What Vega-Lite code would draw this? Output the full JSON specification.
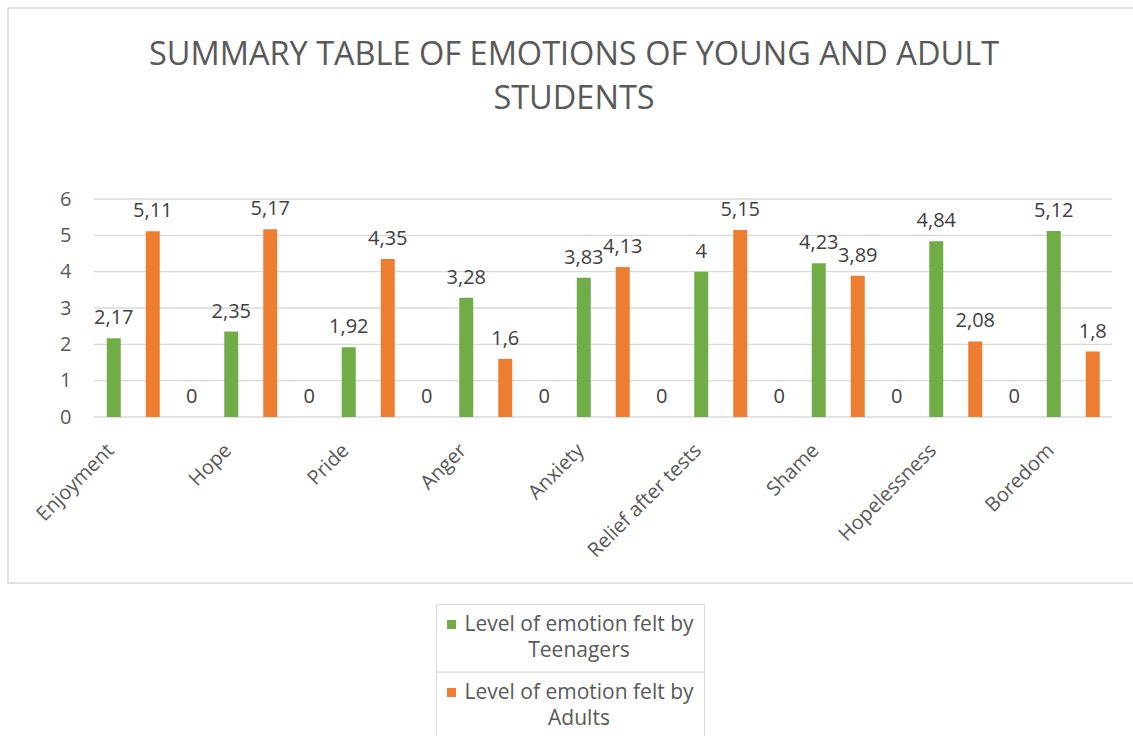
{
  "$schema": "https://vega.github.io/schema/vega-lite/v6.json",
  "autosize": "none",
  "width": 1018,
  "height": 218,
  "padding": {"left": 94, "top": 199, "right": 21, "bottom": 319},
  "title": {
    "text": ["SUMMARY TABLE OF EMOTIONS OF YOUNG AND ADULT", "STUDENTS"],
    "anchor": "middle",
    "dx": -29,
    "offset": -134,
    "font": "Open Sans",
    "fontSize": 32.5,
    "fontWeight": "normal",
    "color": "#595959",
    "lineHeight": 44,
    "baseline": "alphabetic"
  },
  "datasets": {
    "frame": [{"id": "chart area"}],
    "divider": [{"id": "legend divider"}],
    "grid": [{"g": 0}, {"g": 1}, {"g": 2}, {"g": 3}, {"g": 4}, {"g": 5}, {"g": 6}],
    "emotions": [
      {"emotion": "Enjoyment", "series": "Level of emotion felt by Teenagers", "value": 2.17},
      {"emotion": "Enjoyment", "series": "Level of emotion felt by Adults", "value": 5.11},
      {"emotion": "Enjoyment", "series": "Series 3", "value": 0},
      {"emotion": "Hope", "series": "Level of emotion felt by Teenagers", "value": 2.35},
      {"emotion": "Hope", "series": "Level of emotion felt by Adults", "value": 5.17},
      {"emotion": "Hope", "series": "Series 3", "value": 0},
      {"emotion": "Pride", "series": "Level of emotion felt by Teenagers", "value": 1.92},
      {"emotion": "Pride", "series": "Level of emotion felt by Adults", "value": 4.35},
      {"emotion": "Pride", "series": "Series 3", "value": 0},
      {"emotion": "Anger", "series": "Level of emotion felt by Teenagers", "value": 3.28},
      {"emotion": "Anger", "series": "Level of emotion felt by Adults", "value": 1.6},
      {"emotion": "Anger", "series": "Series 3", "value": 0},
      {"emotion": "Anxiety", "series": "Level of emotion felt by Teenagers", "value": 3.83},
      {"emotion": "Anxiety", "series": "Level of emotion felt by Adults", "value": 4.13},
      {"emotion": "Anxiety", "series": "Series 3", "value": 0},
      {"emotion": "Relief after tests", "series": "Level of emotion felt by Teenagers", "value": 4},
      {"emotion": "Relief after tests", "series": "Level of emotion felt by Adults", "value": 5.15},
      {"emotion": "Relief after tests", "series": "Series 3", "value": 0},
      {"emotion": "Shame", "series": "Level of emotion felt by Teenagers", "value": 4.23},
      {"emotion": "Shame", "series": "Level of emotion felt by Adults", "value": 3.89},
      {"emotion": "Shame", "series": "Series 3", "value": 0},
      {"emotion": "Hopelessness", "series": "Level of emotion felt by Teenagers", "value": 4.84},
      {"emotion": "Hopelessness", "series": "Level of emotion felt by Adults", "value": 2.08},
      {"emotion": "Hopelessness", "series": "Series 3", "value": 0},
      {"emotion": "Boredom", "series": "Level of emotion felt by Teenagers", "value": 5.12},
      {"emotion": "Boredom", "series": "Level of emotion felt by Adults", "value": 1.8}
    ]
  },
  "layer": [
    {
      "layer": [
        {
          "data": {"name": "frame"},
          "mark": {"type": "rect", "fill": null, "stroke": "#d9d9d9", "strokeWidth": 1.5},
          "encoding": {
            "x": {"datum": -0.0845, "type": "quantitative", "scale": {"domain": [0, 1]}, "axis": null},
            "x2": {"datum": 1.03},
            "y": {
              "datum": 11.26,
              "type": "quantitative",
              "title": null,
              "scale": {"domain": [0, 6], "nice": false, "zero": false},
              "axis": {
                "values": [0, 1, 2, 3, 4, 5, 6],
                "labelOverlap": false,
                "domain": false,
                "ticks": false,
                "grid": false,
                "labelPadding": 23,
                "labelFontSize": 20,
                "labelColor": "#595959",
                "labelFont": "Open Sans"
              }
            },
            "y2": {"datum": -4.57}
          }
        },
        {
          "data": {"name": "divider"},
          "mark": {"type": "rule", "color": "#d9d9d9", "strokeWidth": 1.3},
          "encoding": {
            "x": {"datum": 0.336, "type": "quantitative", "scale": {"domain": [0, 1]}, "axis": null},
            "x2": {"datum": 0.6},
            "y": {
              "datum": -7.02,
              "type": "quantitative",
              "title": null,
              "axis": {
                "values": [0, 1, 2, 3, 4, 5, 6],
                "labelOverlap": false,
                "domain": false,
                "ticks": false,
                "grid": false,
                "labelPadding": 23,
                "labelFontSize": 20,
                "labelColor": "#595959",
                "labelFont": "Open Sans"
              }
            }
          }
        },
        {
          "data": {"name": "grid"},
          "mark": {"type": "rule", "color": "#d9d9d9", "strokeWidth": 1.3},
          "encoding": {
            "x": {"datum": 0, "type": "quantitative", "scale": {"domain": [0, 1]}, "axis": null},
            "x2": {"datum": 1},
            "y": {
              "field": "g",
              "type": "quantitative",
              "title": null,
              "axis": {
                "values": [0, 1, 2, 3, 4, 5, 6],
                "labelOverlap": false,
                "domain": false,
                "ticks": false,
                "grid": false,
                "labelPadding": 23,
                "labelFontSize": 20,
                "labelColor": "#595959",
                "labelFont": "Open Sans"
              }
            }
          }
        }
      ]
    },
    {
      "data": {"name": "emotions"},
      "layer": [
        {
          "transform": [{"filter": "datum.series != 'Series 3'"}],
          "mark": {"type": "bar"},
          "encoding": {
            "color": {
              "field": "series",
              "type": "nominal",
              "scale": {
                "domain": ["Level of emotion felt by Teenagers", "Level of emotion felt by Adults"],
                "range": ["#70AD47", "#ED7D31"]
              },
              "legend": {
                "orient": "none",
                "legendX": 342,
                "legendY": 405,
                "direction": "vertical",
                "title": null,
                "strokeColor": "#d9d9d9",
                "padding": 10,
                "symbolType": "square",
                "symbolSize": 81,
                "symbolStrokeWidth": 0,
                "symbolOffset": -5,
                "labelFontSize": 21,
                "labelColor": "#595959",
                "labelFont": "Open Sans",
                "labelLimit": 0,
                "labelAlign": "center",
                "labelOffset": 117,
                "rowPadding": 20,
                "labelExpr": "[slice(datum.label, 0, 24), slice(datum.label, 25)]",
                "encode": {"labels": {"update": {"lineHeight": {"value": 26}}}}
              }
            }
          }
        },
        {
          "mark": {
            "type": "text",
            "baseline": "alphabetic",
            "align": "center",
            "dy": -14,
            "font": "Open Sans",
            "fontSize": 20,
            "color": "#404040"
          },
          "encoding": {
            "text": {"field": "value", "type": "quantitative", "format": "~g"}
          }
        }
      ],
      "encoding": {
        "x": {
          "field": "emotion",
          "type": "nominal",
          "sort": null,
          "title": null,
          "scale": {"range": [0, 1057.5], "paddingInner": 0, "paddingOuter": 0},
          "axis": {
            "labelAngle": -45,
            "labelAlign": "right",
            "labelBaseline": "middle",
            "labelOffset": -42,
            "labelPadding": 30,
            "labelLimit": 0,
            "ticks": false,
            "domain": false,
            "grid": false,
            "labelFontSize": 20,
            "labelColor": "#595959",
            "labelFont": "Open Sans"
          }
        },
        "xOffset": {
          "field": "series",
          "type": "nominal",
          "scale": {
            "domain": ["Level of emotion felt by Teenagers", "Level of emotion felt by Adults", "Series 3"],
            "paddingInner": 0.641,
            "paddingOuter": 0.327
          }
        },
        "y": {
          "field": "value",
          "type": "quantitative",
          "title": null,
          "scale": {"domain": [0, 6], "nice": false, "zero": false},
          "axis": {
            "values": [0, 1, 2, 3, 4, 5, 6],
            "labelOverlap": false,
            "domain": false,
            "ticks": false,
            "grid": false,
            "labelPadding": 23,
            "labelFontSize": 20,
            "labelColor": "#595959",
            "labelFont": "Open Sans"
          }
        }
      }
    }
  ],
  "resolve": {"scale": {"x": "independent"}},
  "config": {
    "view": {"stroke": null},
    "axisY": {"labelOverlap": false},
    "locale": {
      "number": {"decimal": ",", "thousands": ".", "grouping": [3], "currency": ["", " €"]}
    }
  }
}
